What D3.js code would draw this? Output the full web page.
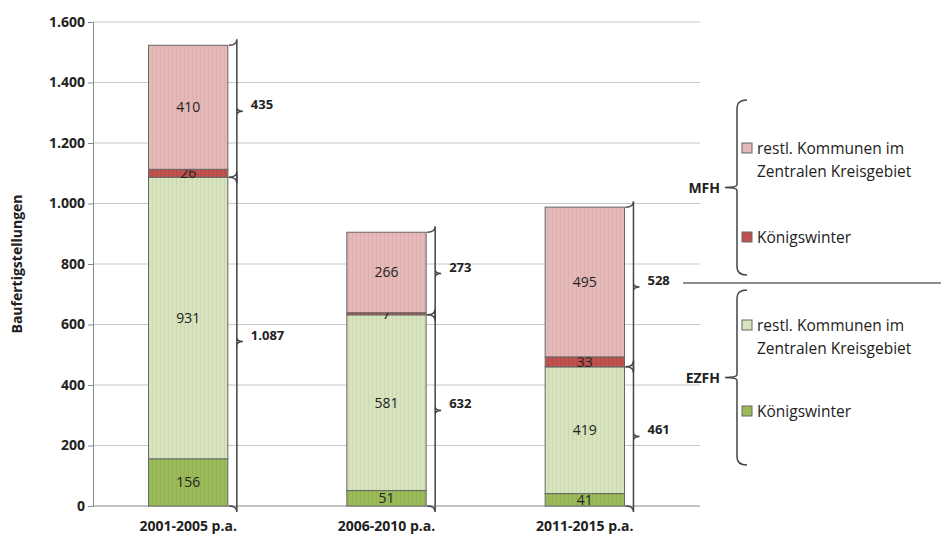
<!DOCTYPE html><html><head><meta charset="utf-8">
<script src="https://cdn.jsdelivr.net/npm/d3@7"></script>
<style>body{margin:0;background:#fff}text{font-family:"Open Sans",sans-serif}</style></head><body>
<svg id="c" width="941" height="539"></svg>
<script>
const categories=["2001-2005 p.a.","2006-2010 p.a.","2011-2015 p.a."];
const ezfhKw=[156,51,41];
const ezfhRest=[931,581,419];
const mfhKw=[26,7,33];
const mfhRest=[410,266,495];
const ezfhTotalLabels=["1.087","632","461"];
const mfhTotalLabels=["435","273","528"];
const yTicks=[0,200,400,600,800,1000,1200,1400,1600];
const seriesNames=["Königswinter","restl. Kommunen im Zentralen Kreisgebiet","Königswinter","restl. Kommunen im Zentralen Kreisgebiet"];
const colors=["#9bbb59","#d7e4bd","#c0504d","#e6b9b8"];

const svg=d3.select("#c");
const fmt=v=>d3.format(",")(v).replace(/,/g,".");
const y=d3.scaleLinear().domain([0,1600]).range([506,22]);
const x=d3.scaleBand().domain(categories).range([93,680]).paddingInner(0.6).paddingOuter(0.28);
const defs=svg.append("defs");
colors.forEach((c,i)=>{const p=defs.append("pattern").attr("id","p"+i).attr("width",4).attr("height",4).attr("patternUnits","userSpaceOnUse");
p.append("rect").attr("width",4).attr("height",4).attr("fill",c);
p.append("rect").attr("width",1).attr("height",4).attr("fill",d3.color(c).darker(0.15));});
svg.append("g").selectAll("line").data(yTicks.filter(d=>d>0)).join("line")
 .attr("x1",93).attr("x2",700).attr("y1",d=>y(d)).attr("y2",d=>y(d)).attr("stroke","#c8c8c8");
const ax=svg.append("g").attr("transform","translate(93,0)").call(d3.axisLeft(y).tickValues(yTicks).tickFormat(fmt).tickSize(5));
ax.select(".domain").attr("stroke","#888");ax.selectAll(".tick line").attr("stroke","#888");
ax.selectAll("text").attr("font-size",14).attr("font-weight","bold").attr("fill","#222").attr("font-family","Open Sans");
svg.append("line").attr("x1",93).attr("x2",700).attr("y1",y(0)).attr("y2",y(0)).attr("stroke","#888");
svg.append("text").attr("transform","translate(22,264) rotate(-90)").attr("text-anchor","middle").attr("font-size",14).attr("font-weight","bold").attr("fill","#222").text("Baufertigstellungen");
const series=[ezfhKw,ezfhRest,mfhKw,mfhRest];
const stacked=categories.map((c,i)=>{let acc=0;return series.map((s,k)=>{const o={c,k,y0:acc,y1:acc+s[i],v:s[i]};acc+=s[i];return o;});});
const g=svg.append("g");
stacked.flat().forEach(d=>{
 g.append("rect").attr("x",x(d.c)).attr("width",x.bandwidth()).attr("y",y(d.y1)).attr("height",y(d.y0)-y(d.y1))
  .attr("fill","url(#p"+d.k+")").attr("stroke","#666").attr("stroke-width",1);
 g.append("text").attr("x",x(d.c)+x.bandwidth()/2).attr("y",(y(d.y0)+y(d.y1))/2+5).attr("text-anchor","middle")
  .attr("font-size",14).attr("fill","#222").text(d.v);
});
x.domain().forEach(c=>svg.append("text").attr("x",x(c)+x.bandwidth()/2).attr("y",531).attr("text-anchor","middle").attr("font-size",14).attr("font-weight","bold").attr("fill","#222").text(c));
function brace(x0,y1,y2,dir){const w=8*dir,m=(y1+y2)/2;
 return `M${x0},${y1} Q${x0+w},${y1} ${x0+w},${y1+6} L${x0+w},${m-4} Q${x0+w},${m} ${x0+2*w-2*dir},${m} Q${x0+w},${m} ${x0+w},${m+4} L${x0+w},${y2-6} Q${x0+w},${y2} ${x0},${y2}`;}
categories.forEach((c,i)=>{const xr=x(c)+x.bandwidth()+1;
 const e=ezfhKw[i]+ezfhRest[i],t=e+mfhKw[i]+mfhRest[i];
 [[0,e,ezfhTotalLabels[i]],[e,t,mfhTotalLabels[i]]].forEach(([a,b,l])=>{
  svg.append("path").attr("d",brace(xr,y(a),y(b),1)).attr("fill","none").attr("stroke","#444").attr("stroke-width",1.5);
  svg.append("text").attr("x",xr+22).attr("y",(y(a)+y(b))/2-2).attr("font-size",13).attr("font-weight","bold").attr("fill","#222").text(l);});
});
function lbrace(x0,y1,y2){const m=(y1+y2)/2;return `M${x0+10},${y1} Q${x0},${y1} ${x0},${y1+8} L${x0},${m-3} Q${x0},${m} ${x0-12},${m} Q${x0},${m} ${x0},${m+3} L${x0},${y2-8} Q${x0},${y2} ${x0+10},${y2}`;}
[[100,275,"MFH"],[290,465,"EZFH"]].forEach(([a,b,l])=>{
 svg.append("path").attr("d",lbrace(737,a,b)).attr("fill","none").attr("stroke","#444").attr("stroke-width",1.5);
 svg.append("text").attr("x",720).attr("y",(a+b)/2+5).attr("text-anchor","end").attr("font-size",14).attr("font-weight","bold").attr("fill","#222").text(l);});
svg.append("line").attr("x1",683).attr("x2",941).attr("y1",283).attr("y2",283).attr("stroke","#666").attr("stroke-width",1.5);
const leg=[[3,148],[2,237],[1,325],[0,411]];
leg.forEach(([k,yy])=>{
 svg.append("rect").attr("x",742).attr("y",yy-5).attr("width",10).attr("height",10).attr("fill",colors[k]).attr("stroke","#666");
 const words=seriesNames[k]==="Königswinter"?["Königswinter"]:["restl. Kommunen im","Zentralen Kreisgebiet"];
 words.forEach((w,j)=>svg.append("text").attr("x",757).attr("y",yy+6+j*23).attr("font-size",15.5).attr("fill","#222").text(w));
});
</script></body></html>
